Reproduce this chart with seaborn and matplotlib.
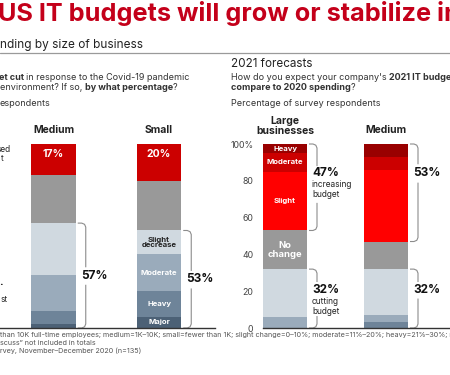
import matplotlib

matplotlib.use("Agg")
import pandas as pd
import matplotlib.pyplot as plt
import seaborn as sns
from matplotlib.lines import Line2D

sns.set_theme(style="white")
plt.rcParams["font.family"] = ["Inter", "DejaVu Sans"]

# %% data
left_groups = ["Medium", "Small"]
left_increased = [17, 20]
left_no_change = [26, 27]
left_cut_slight = [28, 13]
left_cut_moderate = [20, 20]
left_cut_heavy = [7, 14]
left_cut_major = [2, 6]

right_groups = ["Large\nbusinesses", "Medium"]
right_inc_heavy = [5, 7]
right_inc_moderate = [10, 7]
right_inc_slight = [32, 39]
right_no_change = [21, 15]
right_cut_slight = [26, 25]
right_cut_moderate = [6, 4]
right_cut_heavy = [0, 3]

y_ticks = [0, 20, 40, 60, 80, 100]
y_tick_labels = ["0", "20", "40", "60", "80", "100%"]

RED_DARK = "#990000"
RED_MID = "#CC0000"
RED = "#FF0000"
GRAY = "#999999"
BLUE1 = "#D0D9E0"
BLUE2 = "#9AABBB"
BLUE3 = "#6E8499"
BLUE4 = "#4C6176"

W, H = 450, 375
UY = 184 / 100  # px per percent
fig = plt.figure(figsize=(W / 100, H / 100), dpi=100)
renderer = fig.canvas.get_renderer()


def fx(x):
    return x / W


def fy(y):
    return 1 - y / H


def rich_line(x, y, pieces, size, color="#333333"):
    """Draw a line of text made of regular / bold pieces, left to right."""
    probe = fig.text(0, 0, "a a", fontsize=size)
    probe2 = fig.text(0, 0, "aa", fontsize=size)
    space = (probe.get_window_extent(renderer).width
             - probe2.get_window_extent(renderer).width)
    probe.remove()
    probe2.remove()
    for i, (txt, bold) in enumerate(pieces):
        if i > 0 and not txt.startswith("?"):
            x += space
        t = fig.text(fx(x), fy(y), txt, fontsize=size, color=color,
                     fontweight="bold" if bold else "normal",
                     ha="left", va="baseline")
        x = t.get_window_extent(renderer).x1


def stacked(ax, groups, segments, colors, width):
    df = pd.DataFrame(segments, index=groups)
    cum = df.cumsum(axis=1)
    for col, color in reversed(list(zip(df.columns, colors))):
        sns.barplot(x=groups, y=cum[col].values, order=groups, color=color,
                    width=width, saturation=1, errorbar=None, linewidth=0,
                    ax=ax)
    return df, cum


def bracket(ax, xbar, bot, top, gap, ux):
    x0 = xbar + 2 / ux
    x1 = xbar + 10 / ux
    rx, ry = 4 / ux, 4 / UY
    xs = [x0, x1 - rx, x1 - rx * 0.3, x1, x1]
    ys = [top, top, top - ry * 0.3, top - ry, gap[1]]
    ax.plot(xs, ys, color="#8c8c8c", lw=0.8, clip_on=False,
            solid_capstyle="butt")
    xs = [x1, x1, x1 - rx * 0.3, x1 - rx, x0]
    ys = [gap[0], bot + ry, bot + ry * 0.3, bot, bot]
    ax.plot(xs, ys, color="#8c8c8c", lw=0.8, clip_on=False,
            solid_capstyle="butt")


def style_axis(ax):
    ax.set_xlabel("")
    ax.set_ylabel("")
    ax.set_xticks([])
    ax.set_ylim(0, 100)
    ax.set_facecolor("none")
    for s in ["top", "right", "left"]:
        ax.spines[s].set_visible(False)
    ax.spines["bottom"].set_color("#333333")
    ax.spines["bottom"].set_linewidth(1)


# %% titles
fig.text(fx(-2), fy(21), "US IT budgets will grow or stabilize in 2021",
         fontsize=18.2, fontweight="bold", color="#C4001A", ha="left",
         va="baseline")
fig.text(fx(0), fy(48), "nding by size of business", fontsize=8.5,
         color="#222222", ha="left", va="baseline")
fig.add_artist(Line2D([0, 1], [fy(52.5)] * 2, color="#9a9a9a", lw=0.9))

fig.text(fx(231), fy(67), "2021 forecasts", fontsize=8.4, color="#222222",
         ha="left", va="baseline")

Q = 6.5
rich_line(-1, 79.5, [("et cut", True),
                     ("in response to the Covid-19 pandemic", False)], Q)
rich_line(0, 90.5, [("environment? If so,", False),
                    ("by what percentage", True), ("?", False)], Q)
fig.text(fx(0), fy(106.5), "espondents", fontsize=Q, color="#333333",
         ha="left", va="baseline")

rich_line(231, 79.5, [("How do you expect your company's", False),
                      ("2021 IT budget to", True)], Q)
rich_line(231, 90.5, [("compare to 2020 spending", True), ("?", False)], Q)
fig.text(fx(231), fy(106.5), "Percentage of survey respondents",
         fontsize=Q, color="#333333", ha="left", va="baseline")

# fragments of the cropped "Large" column labels
fig.text(fx(11), fy(150), "sed", fontsize=6, color="#222222", ha="right",
         va="center")
fig.text(fx(3.5), fy(159), "t", fontsize=6, color="#222222", ha="right",
         va="center")
fig.text(fx(2.5), fy(285), ".", fontsize=8, fontweight="bold",
         color="#111111", ha="right", va="baseline")
fig.text(fx(8), fy(299), "st", fontsize=6, color="#222222", ha="right",
         va="center")

# %% left panel: budget cuts in 2020
ux_l = 105.5
w_l = 44.5 / ux_l
axL = fig.add_axes([0, (H - 328) / H, 215 / W, 184 / H])
left_seg = {
    "major": left_cut_major,
    "heavy": left_cut_heavy,
    "moderate": left_cut_moderate,
    "slight": left_cut_slight,
    "none": left_no_change,
    "inc": left_increased,
}
dfl, cuml = stacked(axL, left_groups, left_seg,
                    [BLUE4, BLUE3, BLUE2, BLUE1, GRAY, RED_MID], w_l)
style_axis(axL)
axL.set_yticks([])
axL.set_xlim(-53.5 / ux_l, (215 - 53.5) / ux_l)

for i, g in enumerate(left_groups):
    axL.text(i, 107.6, g, ha="center", va="center", fontsize=7.5,
             fontweight="bold", color="#222222", clip_on=False)
    axL.text(i, 94.5, f"{dfl['inc'].iloc[i]}%", ha="center", va="center",
             fontsize=7.5, fontweight="bold", color="white")
    cut_total = cuml["slight"].iloc[i]
    xbar = i + w_l / 2
    mid = cut_total / 2
    bracket(axL, xbar, 0, cut_total, (mid - 5, mid + 4.5), ux_l)
    axL.text(xbar + 5 / ux_l, mid, f"{cut_total}%", ha="left",
             va="center", fontsize=8.5, fontweight="bold", color="#111111",
             clip_on=False)

# segment names inside the small-business bar
small = 1
lab_l = [("Major", "major", "white"), ("Heavy", "heavy", "white"),
         ("Moderate", "moderate", "white"),
         ("Slight\ndecrease", "slight", "#222222")]
for text, col, c in lab_l:
    mid = cuml[col].iloc[small] - dfl[col].iloc[small] / 2
    axL.text(small, mid, text, ha="center", va="center", fontsize=5.6,
             fontweight="bold", color=c, linespacing=0.95)

# %% right panel: 2021 forecasts
ux_r = 101
w_r = 44 / ux_r
axR = fig.add_axes([263 / W, (H - 328) / H, 187 / W, 184 / H])
right_seg = {
    "cut_heavy": right_cut_heavy,
    "cut_moderate": right_cut_moderate,
    "cut_slight": right_cut_slight,
    "none": right_no_change,
    "inc_slight": right_inc_slight,
    "inc_moderate": right_inc_moderate,
    "inc_heavy": right_inc_heavy,
}
dfr, cumr = stacked(axR, right_groups, right_seg,
                    [BLUE3, BLUE2, BLUE1, GRAY, RED, RED_MID, RED_DARK], w_r)
style_axis(axR)
axR.set_yticks(y_ticks)
axR.set_yticklabels(y_tick_labels)
axR.tick_params(axis="y", length=0, pad=7, labelsize=6.3,
                labelcolor="#444444")
axR.set_xlim(-22 / ux_r, 165 / ux_r)

for i, g in enumerate(right_groups):
    axR.text(i, 109.8 if "\n" in g else 107.6, g, ha="center", va="center",
             fontsize=7.5, fontweight="bold", color="#222222",
             linespacing=1.0, clip_on=False)
    xbar = i + w_r / 2
    inc_bot = cumr["none"].iloc[i]
    inc_total = 100 - inc_bot
    cut_total = cumr["cut_slight"].iloc[i]
    if i == 0:
        gap_top, gap_bot = (68, 88), (6.5, 25)
    else:
        gap_top, gap_bot = (79, 89), (16, 25)
    bracket(axR, xbar, inc_bot, 100, gap_top, ux_r)
    bracket(axR, xbar, 0, cut_total, gap_bot, ux_r)
    axR.text(xbar + 5 / ux_r, 84.5, f"{inc_total}%", ha="left", va="center",
             fontsize=8.5, fontweight="bold", color="#111111", clip_on=False)
    axR.text(xbar + 5 / ux_r, 20.7, f"{cut_total}%", ha="left", va="center",
             fontsize=8.5, fontweight="bold", color="#111111", clip_on=False)
    if i == 0:
        axR.text(xbar + 5 / ux_r, 80.5, "increasing\nbudget", ha="left",
                 va="top", fontsize=6, color="#222222", linespacing=1.15,
                 clip_on=False)
        axR.text(xbar + 5 / ux_r, 16.8, "cutting\nbudget", ha="left",
                 va="top", fontsize=6, color="#222222", linespacing=1.15,
                 clip_on=False)

large = 0
lab_r = [("Heavy", "inc_heavy", 5.6), ("Moderate", "inc_moderate", 5.6),
         ("Slight", "inc_slight", 5.6), ("No\nchange", "none", 6.8)]
for text, col, fs in lab_r:
    mid = cumr[col].iloc[large] - dfr[col].iloc[large] / 2
    axR.text(large, mid, text, ha="center", va="center", fontsize=fs,
             fontweight="bold", color="white", linespacing=0.95)

# %% footnotes
notes = [
    "than 10K full-time employees; medium=1K\u201310K; small=fewer than 1K; "
    "slight change=0\u201310%; moderate=11%\u201320%; heavy=21%\u201330%; "
    "major=more than 30%",
    "scuss\u201d not included in totals",
    "rvey, November\u2013December 2020 (n=135)",
]
for k, note in enumerate(notes):
    fig.text(fx(0), fy(336.5 + 8.5 * k), note, fontsize=5.2,
             color="#555555", ha="left", va="baseline")

fig.savefig("out.png", dpi=100, facecolor="white")
